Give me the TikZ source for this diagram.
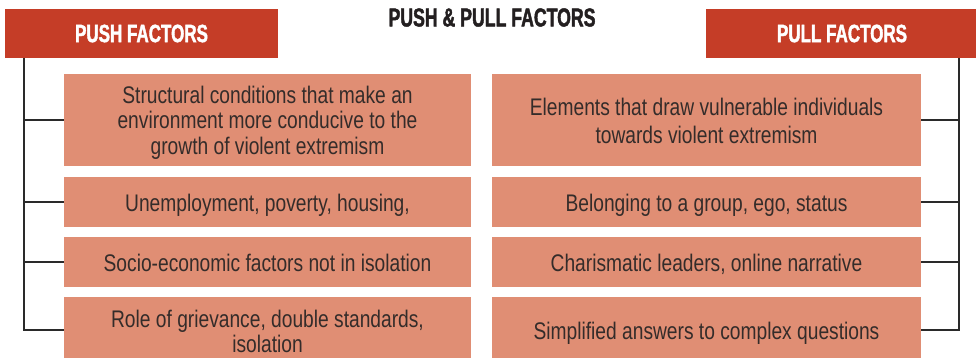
\documentclass[tikz,border=0pt]{standalone}
\usepackage{fontspec}
\setmainfont{Liberation Sans}[FakeStretch=0.8]
\newfontfamily\headfont{Liberation Sans}[UprightFont={* Bold}, FakeStretch=0.68, FakeBold=1.6]
\definecolor{headred}{HTML}{C53D27}
\definecolor{boxfill}{HTML}{E08E74}
\definecolor{bodytext}{HTML}{342C2A}
\definecolor{barline}{HTML}{2A2A2A}
\definecolor{titleink}{HTML}{231F20}
% invisible strut that sets the height of a first line
\newcommand\firstlineht[1]{\rule{0pt}{#1}}
\begin{document}
\begin{tikzpicture}[x=1pt, y=-1pt,
  header/.style={fill=headred, draw=none, inner sep=0pt, text=white,
    font=\headfont\fontsize{25}{25}\selectfont},
  factor/.style={fill=boxfill, draw=none, inner sep=0pt, text=bodytext,
    align=center, minimum width=407pt,
    font=\fontsize{24}{25.5}\selectfont,
    % fixed first-line height and last-line depth, so every box sets its text alike
    execute at begin node={\rule{0pt}{24.5pt}},
    execute at end node={\rule[-5.5pt]{0pt}{0pt}}},
  factorR/.style={factor, minimum width=429pt},
  bar/.style={draw=barline, line width=2.6pt},
  tick/.style={draw=barline, line width=2.4pt}]
\useasboundingbox (0,0) rectangle (976,358);
\clip (0,0) rectangle (976,358);

% title
\node[font=\headfont\fontsize{26}{26}\selectfont, text=titleink, inner sep=0pt]
  (title) at (492,17.5) {PUSH \& PULL FACTORS};

% column headers
\node[header, minimum width=273pt, minimum height=49pt] (hl) at (141.5,33.5) {PUSH FACTORS};
\node[header, minimum width=272pt, minimum height=49pt] (hr) at (842,33.5) {PULL FACTORS};

% push factors
\node[factor, minimum height=92pt] (p1) at (267.5,120) {\firstlineht{22.6pt}Structural conditions that make an\\environment more conducive to the\\growth of violent extremism};
\node[factor, minimum height=50pt] (p2) at (267.5,202) {Unemployment, poverty, housing,};
\node[factor, minimum height=50pt] (p3) at (267.5,262) {Socio-economic factors not in isolation};
\node[factor, minimum height=66pt, font=\fontsize{24}{25}\selectfont] (p4) at (267.5,330) {\firstlineht{24.6pt}Role of grievance, double standards,\\isolation};

% pull factors
\node[factorR, minimum height=92pt, font=\fontsize{24}{28}\selectfont] (q1) at (706.5,120) {\firstlineht{23.6pt}Elements that draw vulnerable individuals\\towards violent extremism};
\node[factorR, minimum height=50pt] (q2) at (706.5,202) {Belonging to a group, ego, status};
\node[factorR, minimum height=50pt] (q3) at (706.5,262) {Charismatic leaders, online narrative};
\node[factorR, minimum height=66pt] (q4) at (706.5,330) {Simplified answers to complex questions};

% left bracket
\coordinate (lt) at (24,58);
\coordinate (lb) at (24,331.3);
\draw[bar] (lt) -- (lb);
\foreach \n in {p1,p2,p3,p4} \draw[tick] (\n.west) -- (\n.west -| lt);

% right bracket
\coordinate (rt) at (959,58);
\coordinate (rb) at (959,331.3);
\draw[bar] (rt) -- (rb);
\foreach \n in {q1,q2,q3,q4} \draw[tick] (\n.east) -- (\n.east -| rt);
\end{tikzpicture}
\end{document}
